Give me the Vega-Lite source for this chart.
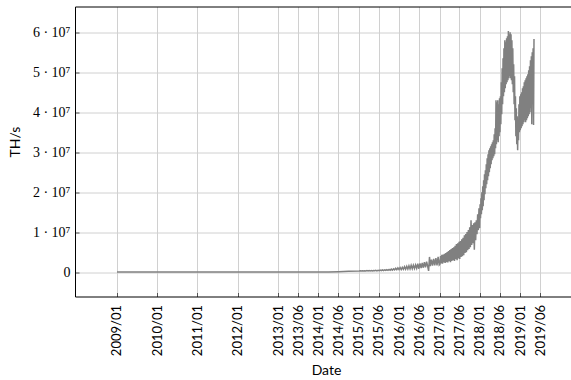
{
  "$schema": "https://vega.github.io/schema/vega-lite/v6.json",
  "autosize": "none",
  "width": 496,
  "height": 290,
  "padding": {"left": 75, "top": 6.5, "right": 0, "bottom": 83.5},
  "background": "white",
  "config": {
    "view": {"stroke": null},
    "font": "Lato",
    "axis": {
      "domainColor": "black",
      "domainWidth": 1,
      "gridColor": "#d0d0d0",
      "gridWidth": 1,
      "tickColor": "#555555",
      "labelColor": "black",
      "titleColor": "black",
      "titleFontWeight": "normal"
    }
  },
  "data": {"values": [
    {"date": "2009-01-03", "ths": 5e-6},
    {"date": "2009-07-01", "ths": 8e-6},
    {"date": "2010-01-01", "ths": 1e-5},
    {"date": "2010-07-01", "ths": 2e-4},
    {"date": "2010-10-01", "ths": 0.05},
    {"date": "2011-01-01", "ths": 2.5},
    {"date": "2011-07-01", "ths": 12},
    {"date": "2012-01-01", "ths": 9},
    {"date": "2012-07-01", "ths": 18},
    {"date": "2013-01-01", "ths": 22},
    {"date": "2013-04-01", "ths": 60},
    {"date": "2013-07-01", "ths": 250},
    {"date": "2013-10-01", "ths": 2500},
    {"date": "2014-01-01", "ths": 1.2e4},
    {"date": "2014-04-01", "ths": 5.5e4},
    {"date": "2014-07-01", "ths": 1.2e5},
    {"date": "2014-10-01", "ths": 2.4e5},
    {"date": "2015-01-05", "ths": 2.6e5},
    {"date": "2015-01-15", "ths": 3.4e5},
    {"date": "2015-01-25", "ths": 2.8e5},
    {"date": "2015-02-04", "ths": 3.6e5},
    {"date": "2015-02-14", "ths": 2.7e5},
    {"date": "2015-02-24", "ths": 3.5e5},
    {"date": "2015-03-06", "ths": 3.0e5},
    {"date": "2015-03-16", "ths": 3.9e5},
    {"date": "2015-03-26", "ths": 2.9e5},
    {"date": "2015-04-05", "ths": 4.0e5},
    {"date": "2015-04-15", "ths": 3.1e5},
    {"date": "2015-04-25", "ths": 3.8e5},
    {"date": "2015-05-05", "ths": 3.0e5},
    {"date": "2015-05-15", "ths": 4.2e5},
    {"date": "2015-05-25", "ths": 3.3e5},
    {"date": "2015-06-04", "ths": 4.5e5},
    {"date": "2015-06-14", "ths": 3.2e5},
    {"date": "2015-06-24", "ths": 4.7e5},
    {"date": "2015-07-04", "ths": 3.5e5},
    {"date": "2015-07-14", "ths": 5.2e5},
    {"date": "2015-07-24", "ths": 3.6e5},
    {"date": "2015-08-03", "ths": 5.5e5},
    {"date": "2015-08-13", "ths": 4.0e5},
    {"date": "2015-08-23", "ths": 5.8e5},
    {"date": "2015-09-02", "ths": 4.2e5},
    {"date": "2015-09-12", "ths": 6.2e5},
    {"date": "2015-09-22", "ths": 4.4e5},
    {"date": "2015-10-02", "ths": 6.8e5},
    {"date": "2015-10-12", "ths": 4.6e5},
    {"date": "2015-10-22", "ths": 7.5e5},
    {"date": "2015-11-01", "ths": 5.0e5},
    {"date": "2015-11-11", "ths": 8.2e5},
    {"date": "2015-11-21", "ths": 5.8e5},
    {"date": "2015-12-01", "ths": 9.5e5},
    {"date": "2015-12-11", "ths": 6.0e5},
    {"date": "2015-12-21", "ths": 1.05e6},
    {"date": "2015-12-31", "ths": 6.5e5},
    {"date": "2016-01-10", "ths": 1.15e6},
    {"date": "2016-01-20", "ths": 6.2e5},
    {"date": "2016-01-30", "ths": 1.2e6},
    {"date": "2016-02-09", "ths": 7.0e5},
    {"date": "2016-02-19", "ths": 1.35e6},
    {"date": "2016-02-29", "ths": 7.2e5},
    {"date": "2016-03-10", "ths": 1.45e6},
    {"date": "2016-03-20", "ths": 7.8e5},
    {"date": "2016-03-30", "ths": 1.6e6},
    {"date": "2016-04-09", "ths": 8.0e5},
    {"date": "2016-04-19", "ths": 1.7e6},
    {"date": "2016-04-29", "ths": 8.5e5},
    {"date": "2016-05-09", "ths": 1.75e6},
    {"date": "2016-05-19", "ths": 9.0e5},
    {"date": "2016-05-29", "ths": 1.8e6},
    {"date": "2016-06-08", "ths": 9.5e5},
    {"date": "2016-06-18", "ths": 2.1e6},
    {"date": "2016-06-28", "ths": 8.5e5},
    {"date": "2016-07-08", "ths": 2.2e6},
    {"date": "2016-07-18", "ths": 1.0e6},
    {"date": "2016-07-28", "ths": 2.3e6},
    {"date": "2016-08-07", "ths": 1.1e6},
    {"date": "2016-08-17", "ths": 2.5e6},
    {"date": "2016-08-27", "ths": 1.2e6},
    {"date": "2016-09-06", "ths": 2.6e6},
    {"date": "2016-09-16", "ths": 1.4e6},
    {"date": "2016-09-24", "ths": 3.0e5},
    {"date": "2016-10-02", "ths": 3.8e6},
    {"date": "2016-10-10", "ths": 1.5e6},
    {"date": "2016-10-20", "ths": 3.1e6},
    {"date": "2016-10-30", "ths": 1.6e6},
    {"date": "2016-11-09", "ths": 3.3e6},
    {"date": "2016-11-19", "ths": 1.7e6},
    {"date": "2016-11-29", "ths": 3.5e6},
    {"date": "2016-12-09", "ths": 1.7e6},
    {"date": "2016-12-19", "ths": 3.8e6},
    {"date": "2016-12-29", "ths": 1.8e6},
    {"date": "2017-01-04", "ths": 2.0e6},
    {"date": "2017-01-10", "ths": 4.0e6},
    {"date": "2017-01-16", "ths": 2.2e6},
    {"date": "2017-01-22", "ths": 4.3e6},
    {"date": "2017-01-28", "ths": 2.1e6},
    {"date": "2017-02-03", "ths": 4.4e6},
    {"date": "2017-02-09", "ths": 2.4e6},
    {"date": "2017-02-15", "ths": 4.6e6},
    {"date": "2017-02-21", "ths": 2.3e6},
    {"date": "2017-02-27", "ths": 4.8e6},
    {"date": "2017-03-05", "ths": 2.5e6},
    {"date": "2017-03-11", "ths": 5.0e6},
    {"date": "2017-03-17", "ths": 2.4e6},
    {"date": "2017-03-23", "ths": 5.3e6},
    {"date": "2017-03-29", "ths": 2.7e6},
    {"date": "2017-04-04", "ths": 5.5e6},
    {"date": "2017-04-10", "ths": 2.5e6},
    {"date": "2017-04-16", "ths": 5.8e6},
    {"date": "2017-04-22", "ths": 2.8e6},
    {"date": "2017-04-28", "ths": 6.0e6},
    {"date": "2017-05-04", "ths": 3.0e6},
    {"date": "2017-05-10", "ths": 6.2e6},
    {"date": "2017-05-16", "ths": 2.8e6},
    {"date": "2017-05-22", "ths": 6.6e6},
    {"date": "2017-05-28", "ths": 3.2e6},
    {"date": "2017-06-03", "ths": 7.0e6},
    {"date": "2017-06-09", "ths": 3.0e6},
    {"date": "2017-06-15", "ths": 7.2e6},
    {"date": "2017-06-21", "ths": 3.4e6},
    {"date": "2017-06-27", "ths": 7.6e6},
    {"date": "2017-07-03", "ths": 3.3e6},
    {"date": "2017-07-09", "ths": 7.8e6},
    {"date": "2017-07-15", "ths": 3.8e6},
    {"date": "2017-07-21", "ths": 8.2e6},
    {"date": "2017-07-27", "ths": 4.0e6},
    {"date": "2017-08-02", "ths": 8.6e6},
    {"date": "2017-08-08", "ths": 4.2e6},
    {"date": "2017-08-14", "ths": 9.2e6},
    {"date": "2017-08-20", "ths": 4.8e6},
    {"date": "2017-08-26", "ths": 9.5e6},
    {"date": "2017-09-01", "ths": 5.0e6},
    {"date": "2017-09-07", "ths": 1.0e7},
    {"date": "2017-09-13", "ths": 5.5e6},
    {"date": "2017-09-19", "ths": 1.05e7},
    {"date": "2017-09-25", "ths": 5.8e6},
    {"date": "2017-10-01", "ths": 1.12e7},
    {"date": "2017-10-07", "ths": 6.2e6},
    {"date": "2017-10-13", "ths": 1.3e7},
    {"date": "2017-10-19", "ths": 6.8e6},
    {"date": "2017-10-25", "ths": 1.18e7},
    {"date": "2017-10-31", "ths": 7.2e6},
    {"date": "2017-11-06", "ths": 1.22e7},
    {"date": "2017-11-12", "ths": 5.6e6},
    {"date": "2017-11-18", "ths": 1.25e7},
    {"date": "2017-11-24", "ths": 8.0e6},
    {"date": "2017-11-30", "ths": 1.3e7},
    {"date": "2017-12-06", "ths": 9.5e6},
    {"date": "2017-12-12", "ths": 1.45e7},
    {"date": "2017-12-18", "ths": 1.05e7},
    {"date": "2017-12-24", "ths": 1.6e7},
    {"date": "2017-12-30", "ths": 1.1e7},
    {"date": "2018-01-03", "ths": 1.7e7},
    {"date": "2018-01-07", "ths": 1.35e7},
    {"date": "2018-01-11", "ths": 1.85e7},
    {"date": "2018-01-15", "ths": 1.45e7},
    {"date": "2018-01-19", "ths": 2.0e7},
    {"date": "2018-01-23", "ths": 1.55e7},
    {"date": "2018-01-27", "ths": 2.15e7},
    {"date": "2018-01-31", "ths": 1.65e7},
    {"date": "2018-02-04", "ths": 2.3e7},
    {"date": "2018-02-08", "ths": 1.8e7},
    {"date": "2018-02-12", "ths": 2.45e7},
    {"date": "2018-02-16", "ths": 1.95e7},
    {"date": "2018-02-20", "ths": 2.55e7},
    {"date": "2018-02-24", "ths": 2.1e7},
    {"date": "2018-02-28", "ths": 2.7e7},
    {"date": "2018-03-04", "ths": 2.2e7},
    {"date": "2018-03-08", "ths": 2.85e7},
    {"date": "2018-03-12", "ths": 2.3e7},
    {"date": "2018-03-16", "ths": 2.95e7},
    {"date": "2018-03-20", "ths": 2.4e7},
    {"date": "2018-03-24", "ths": 3.05e7},
    {"date": "2018-03-28", "ths": 2.5e7},
    {"date": "2018-04-01", "ths": 3.1e7},
    {"date": "2018-04-05", "ths": 2.6e7},
    {"date": "2018-04-09", "ths": 3.15e7},
    {"date": "2018-04-13", "ths": 2.7e7},
    {"date": "2018-04-17", "ths": 3.2e7},
    {"date": "2018-04-21", "ths": 2.8e7},
    {"date": "2018-04-25", "ths": 3.25e7},
    {"date": "2018-04-29", "ths": 2.85e7},
    {"date": "2018-05-03", "ths": 3.3e7},
    {"date": "2018-05-07", "ths": 2.9e7},
    {"date": "2018-05-11", "ths": 3.45e7},
    {"date": "2018-05-15", "ths": 2.95e7},
    {"date": "2018-05-19", "ths": 3.6e7},
    {"date": "2018-05-23", "ths": 3.1e7},
    {"date": "2018-05-27", "ths": 4.3e7},
    {"date": "2018-05-31", "ths": 3.2e7},
    {"date": "2018-06-04", "ths": 4.25e7},
    {"date": "2018-06-08", "ths": 3.3e7},
    {"date": "2018-06-12", "ths": 4.3e7},
    {"date": "2018-06-16", "ths": 3.25e7},
    {"date": "2018-06-20", "ths": 4.2e7},
    {"date": "2018-06-24", "ths": 3.4e7},
    {"date": "2018-06-28", "ths": 4.35e7},
    {"date": "2018-07-02", "ths": 3.5e7},
    {"date": "2018-07-06", "ths": 4.4e7},
    {"date": "2018-07-10", "ths": 3.7e7},
    {"date": "2018-07-14", "ths": 4.75e7},
    {"date": "2018-07-18", "ths": 3.95e7},
    {"date": "2018-07-22", "ths": 5.1e7},
    {"date": "2018-07-26", "ths": 4.2e7},
    {"date": "2018-07-30", "ths": 5.35e7},
    {"date": "2018-08-03", "ths": 4.4e7},
    {"date": "2018-08-07", "ths": 5.6e7},
    {"date": "2018-08-11", "ths": 4.5e7},
    {"date": "2018-08-15", "ths": 5.8e7},
    {"date": "2018-08-19", "ths": 4.6e7},
    {"date": "2018-08-23", "ths": 5.75e7},
    {"date": "2018-08-27", "ths": 4.7e7},
    {"date": "2018-08-31", "ths": 5.85e7},
    {"date": "2018-09-04", "ths": 4.75e7},
    {"date": "2018-09-08", "ths": 5.9e7},
    {"date": "2018-09-12", "ths": 4.8e7},
    {"date": "2018-09-16", "ths": 6.03e7},
    {"date": "2018-09-20", "ths": 4.85e7},
    {"date": "2018-09-24", "ths": 5.95e7},
    {"date": "2018-09-28", "ths": 4.9e7},
    {"date": "2018-10-02", "ths": 6.0e7},
    {"date": "2018-10-06", "ths": 4.85e7},
    {"date": "2018-10-10", "ths": 5.95e7},
    {"date": "2018-10-14", "ths": 4.8e7},
    {"date": "2018-10-18", "ths": 5.8e7},
    {"date": "2018-10-22", "ths": 4.7e7},
    {"date": "2018-10-26", "ths": 5.6e7},
    {"date": "2018-10-30", "ths": 4.5e7},
    {"date": "2018-11-03", "ths": 5.2e7},
    {"date": "2018-11-07", "ths": 4.2e7},
    {"date": "2018-11-11", "ths": 4.9e7},
    {"date": "2018-11-15", "ths": 3.8e7},
    {"date": "2018-11-19", "ths": 4.4e7},
    {"date": "2018-11-23", "ths": 3.4e7},
    {"date": "2018-11-27", "ths": 4.1e7},
    {"date": "2018-12-01", "ths": 3.2e7},
    {"date": "2018-12-05", "ths": 3.9e7},
    {"date": "2018-12-09", "ths": 3.05e7},
    {"date": "2018-12-13", "ths": 3.8e7},
    {"date": "2018-12-17", "ths": 3.3e7},
    {"date": "2018-12-21", "ths": 4.2e7},
    {"date": "2018-12-25", "ths": 3.5e7},
    {"date": "2018-12-29", "ths": 4.4e7},
    {"date": "2019-01-02", "ths": 3.55e7},
    {"date": "2019-01-06", "ths": 4.45e7},
    {"date": "2019-01-10", "ths": 3.6e7},
    {"date": "2019-01-14", "ths": 4.5e7},
    {"date": "2019-01-18", "ths": 3.65e7},
    {"date": "2019-01-22", "ths": 4.6e7},
    {"date": "2019-01-26", "ths": 3.7e7},
    {"date": "2019-01-30", "ths": 4.65e7},
    {"date": "2019-02-03", "ths": 3.75e7},
    {"date": "2019-02-07", "ths": 4.75e7},
    {"date": "2019-02-11", "ths": 3.8e7},
    {"date": "2019-02-15", "ths": 4.8e7},
    {"date": "2019-02-19", "ths": 3.75e7},
    {"date": "2019-02-23", "ths": 4.85e7},
    {"date": "2019-02-27", "ths": 3.8e7},
    {"date": "2019-03-03", "ths": 4.9e7},
    {"date": "2019-03-07", "ths": 3.85e7},
    {"date": "2019-03-11", "ths": 4.95e7},
    {"date": "2019-03-15", "ths": 3.9e7},
    {"date": "2019-03-19", "ths": 5.05e7},
    {"date": "2019-03-23", "ths": 3.95e7},
    {"date": "2019-03-27", "ths": 5.15e7},
    {"date": "2019-03-31", "ths": 4.0e7},
    {"date": "2019-04-04", "ths": 5.3e7},
    {"date": "2019-04-08", "ths": 4.1e7},
    {"date": "2019-04-12", "ths": 5.4e7},
    {"date": "2019-04-16", "ths": 3.7e7},
    {"date": "2019-04-20", "ths": 5.5e7},
    {"date": "2019-04-24", "ths": 4.2e7},
    {"date": "2019-04-28", "ths": 5.6e7},
    {"date": "2019-05-02", "ths": 3.68e7},
    {"date": "2019-05-06", "ths": 5.83e7}
  ]},
  "layer": [
    {
      "mark": {"type": "line", "strokeOpacity": 0},
      "encoding": {
        "x": {
          "field": "date", "type": "temporal",
          "scale": {"type": "utc", "domain": [{"year": 2007, "month": 12, "date": 20, "utc": true}, {"year": 2020, "month": 4, "date": 5, "utc": true}]},
          "axis": {"orient": "top", "labels": false, "ticks": false, "grid": false, "domain": true, "title": null}
        },
        "y": {
          "field": "ths", "type": "quantitative",
          "scale": {"domain": [-6100000, 66450000], "nice": false, "zero": false},
          "axis": {
            "values": [0, 10000000, 20000000, 30000000, 40000000, 50000000, 60000000],
            "labelExpr": "datum.value == 0 ? '0' : format(datum.value / 10000000, 'd') + ' · 10⁷'",
            "labelFont": "Liberation Serif",
            "labelFontSize": 14,
            "labelPadding": 9,
            "ticks": true,
            "tickSize": -4,
            "grid": true,
            "title": "TH/s",
            "titleFont": "Lato",
            "titleFontSize": 14,
            "titleX": -60,
            "titleY": 135,
            "titleBaseline": "middle"
          }
        }
      }
    },
    {
      "mark": {"type": "line", "color": "#808080", "strokeWidth": 1.5},
      "encoding": {
        "x": {
          "field": "date", "type": "temporal",
          "scale": {"type": "utc", "domain": [{"year": 2007, "month": 12, "date": 20, "utc": true}, {"year": 2020, "month": 4, "date": 5, "utc": true}]},
          "axis": {
            "orient": "bottom",
            "values": [
              {"year": 2009, "month": 1, "date": 1, "utc": true},
              {"year": 2010, "month": 1, "date": 1, "utc": true},
              {"year": 2011, "month": 1, "date": 1, "utc": true},
              {"year": 2012, "month": 1, "date": 1, "utc": true},
              {"year": 2013, "month": 1, "date": 1, "utc": true},
              {"year": 2013, "month": 6, "date": 30, "utc": true},
              {"year": 2014, "month": 1, "date": 1, "utc": true},
              {"year": 2014, "month": 6, "date": 30, "utc": true},
              {"year": 2015, "month": 1, "date": 1, "utc": true},
              {"year": 2015, "month": 6, "date": 30, "utc": true},
              {"year": 2016, "month": 1, "date": 1, "utc": true},
              {"year": 2016, "month": 6, "date": 30, "utc": true},
              {"year": 2017, "month": 1, "date": 1, "utc": true},
              {"year": 2017, "month": 6, "date": 30, "utc": true},
              {"year": 2018, "month": 1, "date": 1, "utc": true},
              {"year": 2018, "month": 6, "date": 30, "utc": true},
              {"year": 2019, "month": 1, "date": 1, "utc": true},
              {"year": 2019, "month": 6, "date": 30, "utc": true}
            ],
            "labelExpr": "utcFormat(datum.value, '%Y/%m')",
            "labelAngle": -90,
            "labelFont": "Lato",
            "labelFontSize": 13,
            "labelPadding": 12,
            "labelOverlap": false,
            "labelFlush": false,
            "ticks": true,
            "tickSize": -4,
            "grid": true,
            "title": "Date",
            "titleFont": "Lato",
            "titleFontSize": 14,
            "titleX": 251,
            "titleY": 74,
            "titleBaseline": "middle"
          }
        },
        "y": {
          "field": "ths", "type": "quantitative",
          "scale": {"domain": [-6100000, 66450000], "nice": false, "zero": false},
          "axis": {
            "values": [0, 10000000, 20000000, 30000000, 40000000, 50000000, 60000000],
            "labelExpr": "datum.value == 0 ? '0' : format(datum.value / 10000000, 'd') + ' · 10⁷'",
            "labelFont": "Liberation Serif",
            "labelFontSize": 14,
            "labelPadding": 9,
            "ticks": true,
            "tickSize": -4,
            "grid": true,
            "title": "TH/s",
            "titleFont": "Lato",
            "titleFontSize": 14,
            "titleX": -60,
            "titleY": 135,
            "titleBaseline": "middle"
          }
        }
      }
    }
  ],
  "resolve": {"axis": {"x": "independent"}}
}
